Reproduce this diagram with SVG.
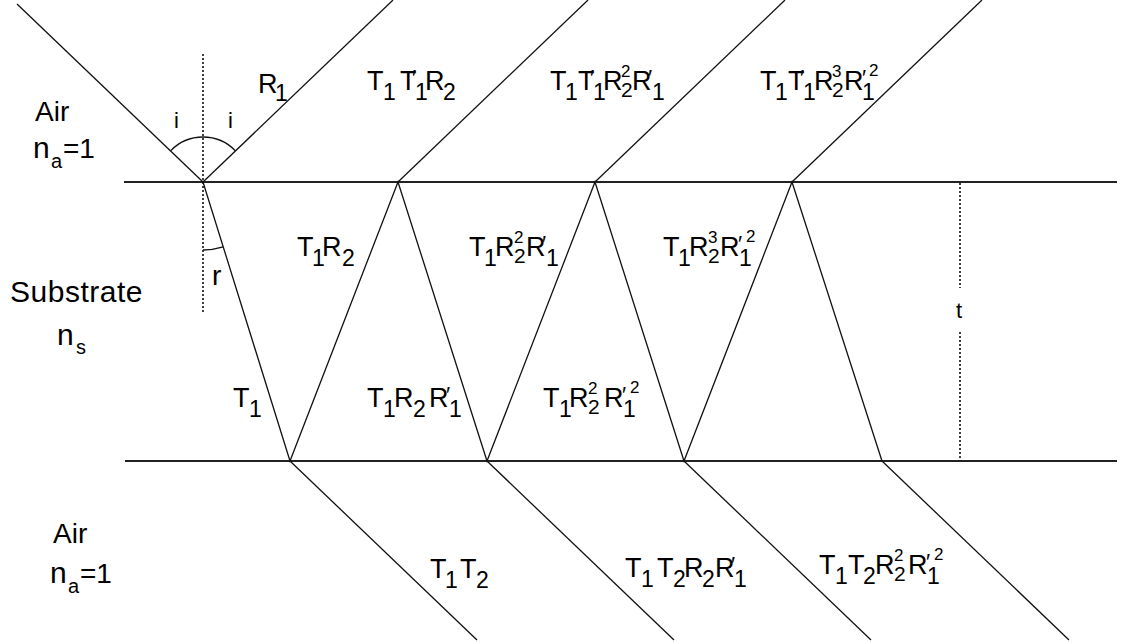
<svg xmlns="http://www.w3.org/2000/svg" width="1121" height="643" viewBox="0 0 1121 643">
<style>
text{font-family:"Liberation Sans","DejaVu Sans",Arial,sans-serif;fill:#000}
.b{font-size:27px}
.s{font-size:23px}
.k{font-size:21px}
.p{font-size:17px}
.q{font-size:22px}
.lbl{font-size:28px}
.ray{stroke:#111;stroke-width:1.3;fill:none}
.srf{stroke:#222;stroke-width:2;fill:none}
.dot{stroke:#111;stroke-width:1.6;stroke-dasharray:2 2;fill:none}
.arc{stroke:#111;stroke-width:1.3;fill:none}
</style>
<g id="surfaces">
<line class="srf" x1="124" y1="182" x2="1117" y2="182"/>
<line class="srf" x1="125" y1="461" x2="1117" y2="461"/>
</g>
<g id="guides">
<line class="dot" x1="203" y1="54" x2="203" y2="312"/>
<line class="dot" x1="960" y1="183" x2="960" y2="288"/>
<line class="dot" x1="960" y1="332" x2="960" y2="460"/>
<path class="arc" d="M170.5,150.9 A45,45 0 0 1 235.5,150.9"/>
<path class="arc" d="M203,250 A68,68 0 0 0 223.2,246.9"/>
</g>
<g id="connectors">
<line class="ray" x1="17" y1="4" x2="203" y2="182"/>
<line class="ray" x1="203" y1="182" x2="393" y2="0"/>
<line class="ray" x1="398" y1="182" x2="588" y2="0"/>
<line class="ray" x1="595" y1="182" x2="785" y2="0"/>
<line class="ray" x1="792" y1="182" x2="982" y2="0"/>
<polyline class="ray" points="203,182 290,461 398,182 487,461 595,182 684,461 792,182 882,461"/>
<line class="ray" x1="290" y1="461" x2="477" y2="640"/>
<line class="ray" x1="487" y1="461" x2="674" y2="640"/>
<line class="ray" x1="684" y1="461" x2="871" y2="640"/>
<line class="ray" x1="882" y1="461" x2="1069" y2="640"/>
</g>
<g id="media-labels">
<text class="lbl" x="35" y="121">Air</text>
<text><tspan style="font-size:30px" x="33" y="158">n</tspan><tspan style="font-size:20px" x="51" y="168">a</tspan><tspan class="lbl" x="63" y="158">=1</tspan></text>
<text style="font-size:30px;letter-spacing:0.5px" x="10" y="302">Substrate</text>
<text><tspan style="font-size:30px" x="57" y="345">n</tspan><tspan style="font-size:20px" x="76" y="354">s</tspan></text>
<text class="lbl" x="53" y="543">Air</text>
<text><tspan style="font-size:30px" x="50" y="583">n</tspan><tspan style="font-size:20px" x="68" y="593">a</tspan><tspan class="lbl" x="80" y="583">=1</tspan></text>
<text style="font-size:22px" x="174" y="128">i</text>
<text style="font-size:22px" x="228" y="128">i</text>
<text style="font-size:28px" x="212" y="285">r</text>
<text style="font-size:22px" x="956" y="318">t</text>
</g>
<g id="label-R1"><text><tspan class="b" x="258" y="93">R</tspan><tspan class="s" x="275" y="101">1</tspan></text></g>
<g id="label-top-1"><text><tspan class="b" x="367" y="90">T</tspan><tspan class="s" x="383" y="100">1</tspan><tspan class="b" x="400" y="90">T</tspan><tspan class="q" x="412" y="85">′</tspan><tspan class="s" x="415" y="100">1</tspan><tspan class="b" x="425" y="90">R</tspan><tspan class="s" x="443" y="100">2</tspan></text></g>
<g id="label-top-2"><text><tspan class="b" x="550" y="90">T</tspan><tspan class="s" x="565" y="100">1</tspan><tspan class="b" x="578" y="90">T</tspan><tspan class="q" x="590" y="85">′</tspan><tspan class="s" x="593" y="100">1</tspan><tspan class="b" x="603" y="90">R</tspan><tspan class="p" x="621" y="77">2</tspan><tspan class="k" x="621" y="97">2</tspan><tspan class="b" x="632" y="90">R</tspan><tspan class="q" x="648" y="85">′</tspan><tspan class="s" x="652" y="100">1</tspan></text></g>
<g id="label-top-3"><text><tspan class="b" x="760" y="90">T</tspan><tspan class="s" x="775" y="100">1</tspan><tspan class="b" x="788" y="90">T</tspan><tspan class="q" x="800" y="85">′</tspan><tspan class="s" x="803" y="100">1</tspan><tspan class="b" x="814" y="90">R</tspan><tspan class="p" x="832" y="77">3</tspan><tspan class="k" x="832" y="97">2</tspan><tspan class="b" x="844" y="90">R</tspan><tspan class="s" x="862" y="100">1</tspan><tspan class="q" x="862" y="85">′</tspan><tspan class="p" x="869" y="76">2</tspan></text></g>
<g id="label-mid-1"><text><tspan class="b" x="297" y="256">T</tspan><tspan class="s" x="312" y="266">1</tspan><tspan class="b" x="322" y="256">R</tspan><tspan class="s" x="342" y="266">2</tspan></text></g>
<g id="label-mid-2"><text><tspan class="b" x="469" y="256">T</tspan><tspan class="s" x="484" y="266">1</tspan><tspan class="b" x="495" y="256">R</tspan><tspan class="p" x="514" y="243">2</tspan><tspan class="k" x="514" y="263">2</tspan><tspan class="b" x="526" y="256">R</tspan><tspan class="q" x="542" y="251">′</tspan><tspan class="s" x="546" y="266">1</tspan></text></g>
<g id="label-mid-3"><text><tspan class="b" x="663" y="256">T</tspan><tspan class="s" x="678" y="266">1</tspan><tspan class="b" x="689" y="256">R</tspan><tspan class="p" x="708" y="243">3</tspan><tspan class="k" x="708" y="263">2</tspan><tspan class="b" x="720" y="256">R</tspan><tspan class="s" x="739" y="266">1</tspan><tspan class="q" x="738" y="251">′</tspan><tspan class="p" x="746" y="242">2</tspan></text></g>
<g id="label-low-1"><text><tspan class="b" x="233" y="407">T</tspan><tspan class="s" x="249" y="417">1</tspan></text></g>
<g id="label-low-2"><text><tspan class="b" x="367" y="407">T</tspan><tspan class="s" x="383" y="417">1</tspan><tspan class="b" x="394" y="407">R</tspan><tspan class="s" x="413" y="417">2</tspan><tspan class="b" x="429" y="407">R</tspan><tspan class="q" x="446" y="402">′</tspan><tspan class="s" x="449" y="417">1</tspan></text></g>
<g id="label-low-3"><text><tspan class="b" x="543" y="407">T</tspan><tspan class="s" x="559" y="417">1</tspan><tspan class="b" x="569" y="407">R</tspan><tspan class="p" x="588" y="394">2</tspan><tspan class="k" x="588" y="414">2</tspan><tspan class="b" x="604" y="407">R</tspan><tspan class="s" x="623" y="417">1</tspan><tspan class="q" x="622" y="402">′</tspan><tspan class="p" x="630" y="393">2</tspan></text></g>
<g id="label-bot-1"><text><tspan class="b" x="430" y="578">T</tspan><tspan class="s" x="445" y="588">1</tspan><tspan class="b" x="460" y="578">T</tspan><tspan class="s" x="476" y="588">2</tspan></text></g>
<g id="label-bot-2"><text><tspan class="b" x="625" y="577">T</tspan><tspan class="s" x="641" y="587">1</tspan><tspan class="b" x="657" y="577">T</tspan><tspan class="s" x="673" y="587">2</tspan><tspan class="b" x="684" y="577">R</tspan><tspan class="s" x="702" y="587">2</tspan><tspan class="b" x="715" y="577">R</tspan><tspan class="q" x="731" y="572">′</tspan><tspan class="s" x="734" y="587">1</tspan></text></g>
<g id="label-bot-3"><text><tspan class="b" x="819" y="574">T</tspan><tspan class="s" x="835" y="584">1</tspan><tspan class="b" x="848" y="574">T</tspan><tspan class="s" x="863" y="584">2</tspan><tspan class="b" x="875" y="574">R</tspan><tspan class="p" x="894" y="561">2</tspan><tspan class="k" x="894" y="581">2</tspan><tspan class="b" x="908" y="574">R</tspan><tspan class="s" x="927" y="584">1</tspan><tspan class="q" x="926" y="569">′</tspan><tspan class="p" x="934" y="560">2</tspan></text></g>
</svg>
